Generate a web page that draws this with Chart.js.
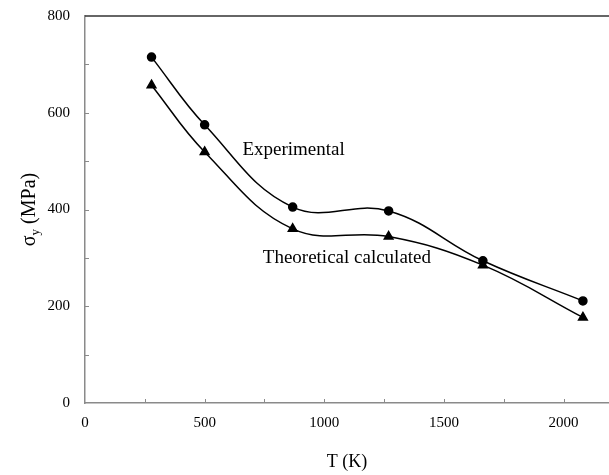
<!DOCTYPE html>
<html>
<head>
<meta charset="utf-8">
<script src="https://cdn.jsdelivr.net/npm/chart.js@4/dist/chart.umd.min.js"></script>
<style>
  html, body { margin: 0; padding: 0; background: #fff; }
  #wrap { width: 609px; height: 475px; }
</style>
</head>
<body>
<div id="wrap"><canvas id="sigmaChart"></canvas></div>
<script>
// temperatures (K)
const temps = [278, 500, 868, 1269, 1663, 2081];
// yield strength (MPa)
const experimental = [715, 575, 405, 397, 294, 211];
const theoretical = [657, 519, 360, 344, 285, 177];

// tick positions (minor ticks get no label)
const xTicks = [0, 250, 500, 750, 1000, 1250, 1500, 1750, 2000];
const xLabelStep = 500;
const yTicks = [0, 100, 200, 300, 400, 500, 600, 700, 800];
const yLabelStep = 200;

// text labels placed next to the curves (data coordinates, left edge / middle)
const curveLabels = [
    { text: 'Experimental', x: 658, y: 522 },
    { text: 'Theoretical calculated', x: 743, y: 299 }
];

const serif = '"Liberation Serif", "Times New Roman", serif';

function toPoints(xs, ys) {
    return xs.map((x, i) => ({ x: x, y: ys[i] }));
}

// tick marks pointing into the plot, top frame line, titles and curve labels
const extras = {
    id: 'extras',
    afterDraw(chart) {
        const ctx = chart.ctx;
        const area = chart.chartArea;
        const xs = chart.scales.x;
        const ys = chart.scales.y;
        ctx.save();

        ctx.strokeStyle = '#8a8a8a';
        ctx.lineWidth = 1;
        xs.ticks.forEach(t => {
            if (t.value === 0) return;
            const px = Math.round(xs.getPixelForValue(t.value)) + 0.5;
            ctx.beginPath();
            ctx.moveTo(px, area.bottom);
            ctx.lineTo(px, area.bottom - 4);
            ctx.stroke();
        });
        ys.ticks.forEach(t => {
            if (t.value === 0 || t.value === 800) return;
            const py = Math.round(ys.getPixelForValue(t.value)) + 0.5;
            ctx.beginPath();
            ctx.moveTo(area.left, py);
            ctx.lineTo(area.left + 4, py);
            ctx.stroke();
        });

        // top frame line
        ctx.strokeStyle = '#333';
        ctx.lineWidth = 1.5;
        ctx.beginPath();
        ctx.moveTo(area.left, area.top);
        ctx.lineTo(chart.width, area.top);
        ctx.stroke();

        ctx.fillStyle = '#000';

        // x title
        ctx.font = '18px ' + serif;
        ctx.textAlign = 'center';
        ctx.textBaseline = 'middle';
        ctx.fillText('T (K)', (area.left + area.right) / 2, 462);

        // y title with subscript
        ctx.translate(29, (area.top + area.bottom) / 2);
        ctx.rotate(-Math.PI / 2);
        ctx.textAlign = 'left';
        ctx.textBaseline = 'alphabetic';
        const main = '\u03C3';
        const rest = ' (MPa)';
        ctx.font = '20px ' + serif;
        const w1 = ctx.measureText(main).width;
        const w3 = ctx.measureText(rest).width;
        ctx.font = '13px ' + serif;
        const w2 = ctx.measureText('y').width;
        const total = w1 + w2 + w3;
        let cx = -total / 2;
        ctx.font = '20px ' + serif;
        ctx.fillText(main, cx, 6);
        cx += w1;
        ctx.font = '13px ' + serif;
        ctx.fillText('y', cx, 10);
        cx += w2;
        ctx.font = '20px ' + serif;
        ctx.fillText(rest, cx, 6);
        ctx.setTransform(1, 0, 0, 1, 0, 0);

        // curve labels
        ctx.font = '19px ' + serif;
        ctx.textAlign = 'left';
        ctx.textBaseline = 'middle';
        curveLabels.forEach(l => {
            ctx.fillText(l.text, xs.getPixelForValue(l.x), ys.getPixelForValue(l.y));
        });

        ctx.restore();
    }
};

const ctx = document.getElementById('sigmaChart').getContext('2d');
const chart = new Chart(ctx, {
    type: 'line',
    data: {
        datasets: [{
            label: 'Experimental',
            data: toPoints(temps, experimental),
            borderColor: '#000',
            backgroundColor: '#000',
            borderWidth: 1.5,
            pointStyle: 'circle',
            pointRadius: 4,
            tension: 0.4,
            fill: false
        }, {
            label: 'Theoretical calculated',
            data: toPoints(temps, theoretical),
            borderColor: '#000',
            backgroundColor: '#000',
            borderWidth: 1.5,
            pointStyle: 'triangle',
            pointRadius: 5,
            tension: 0.4,
            fill: false
        }]
    },
    options: {
        responsive: true,
        maintainAspectRatio: false,
        animation: false,
        layout: { autoPadding: false, padding: { top: 15, right: 0, left: 0, bottom: 0 } },
        plugins: {
            legend: { display: false },
            tooltip: { enabled: false }
        },
        scales: {
            x: {
                type: 'linear',
                min: 0,
                max: 2190,
                bounds: 'data',
                grid: { display: false },
                border: { display: true, color: '#8a8a8a', width: 1.5 },
                afterBuildTicks: s => { s.ticks = xTicks.map(v => ({ value: v })); },
                ticks: {
                    autoSkip: false,
                    maxRotation: 0,
                    padding: 3,
                    color: '#000',
                    font: { family: serif, size: 15 },
                    callback: v => (Math.round(v) % xLabelStep === 0 ? String(Math.round(v)) : '')
                },
                afterFit: s => { s.height = 72; }
            },
            y: {
                min: 0,
                max: 800,
                bounds: 'data',
                grid: { display: false },
                border: { display: true, color: '#8a8a8a', width: 1.5 },
                afterBuildTicks: s => { s.ticks = yTicks.map(v => ({ value: v })); },
                ticks: {
                    autoSkip: false,
                    padding: 7,
                    color: '#000',
                    font: { family: serif, size: 15 },
                    callback: v => (Math.round(v) % yLabelStep === 0 ? String(Math.round(v)) : '')
                },
                afterFit: s => { s.width = 85; }
            }
        }
    },
    plugins: [extras]
});
</script>
</body>
</html>
